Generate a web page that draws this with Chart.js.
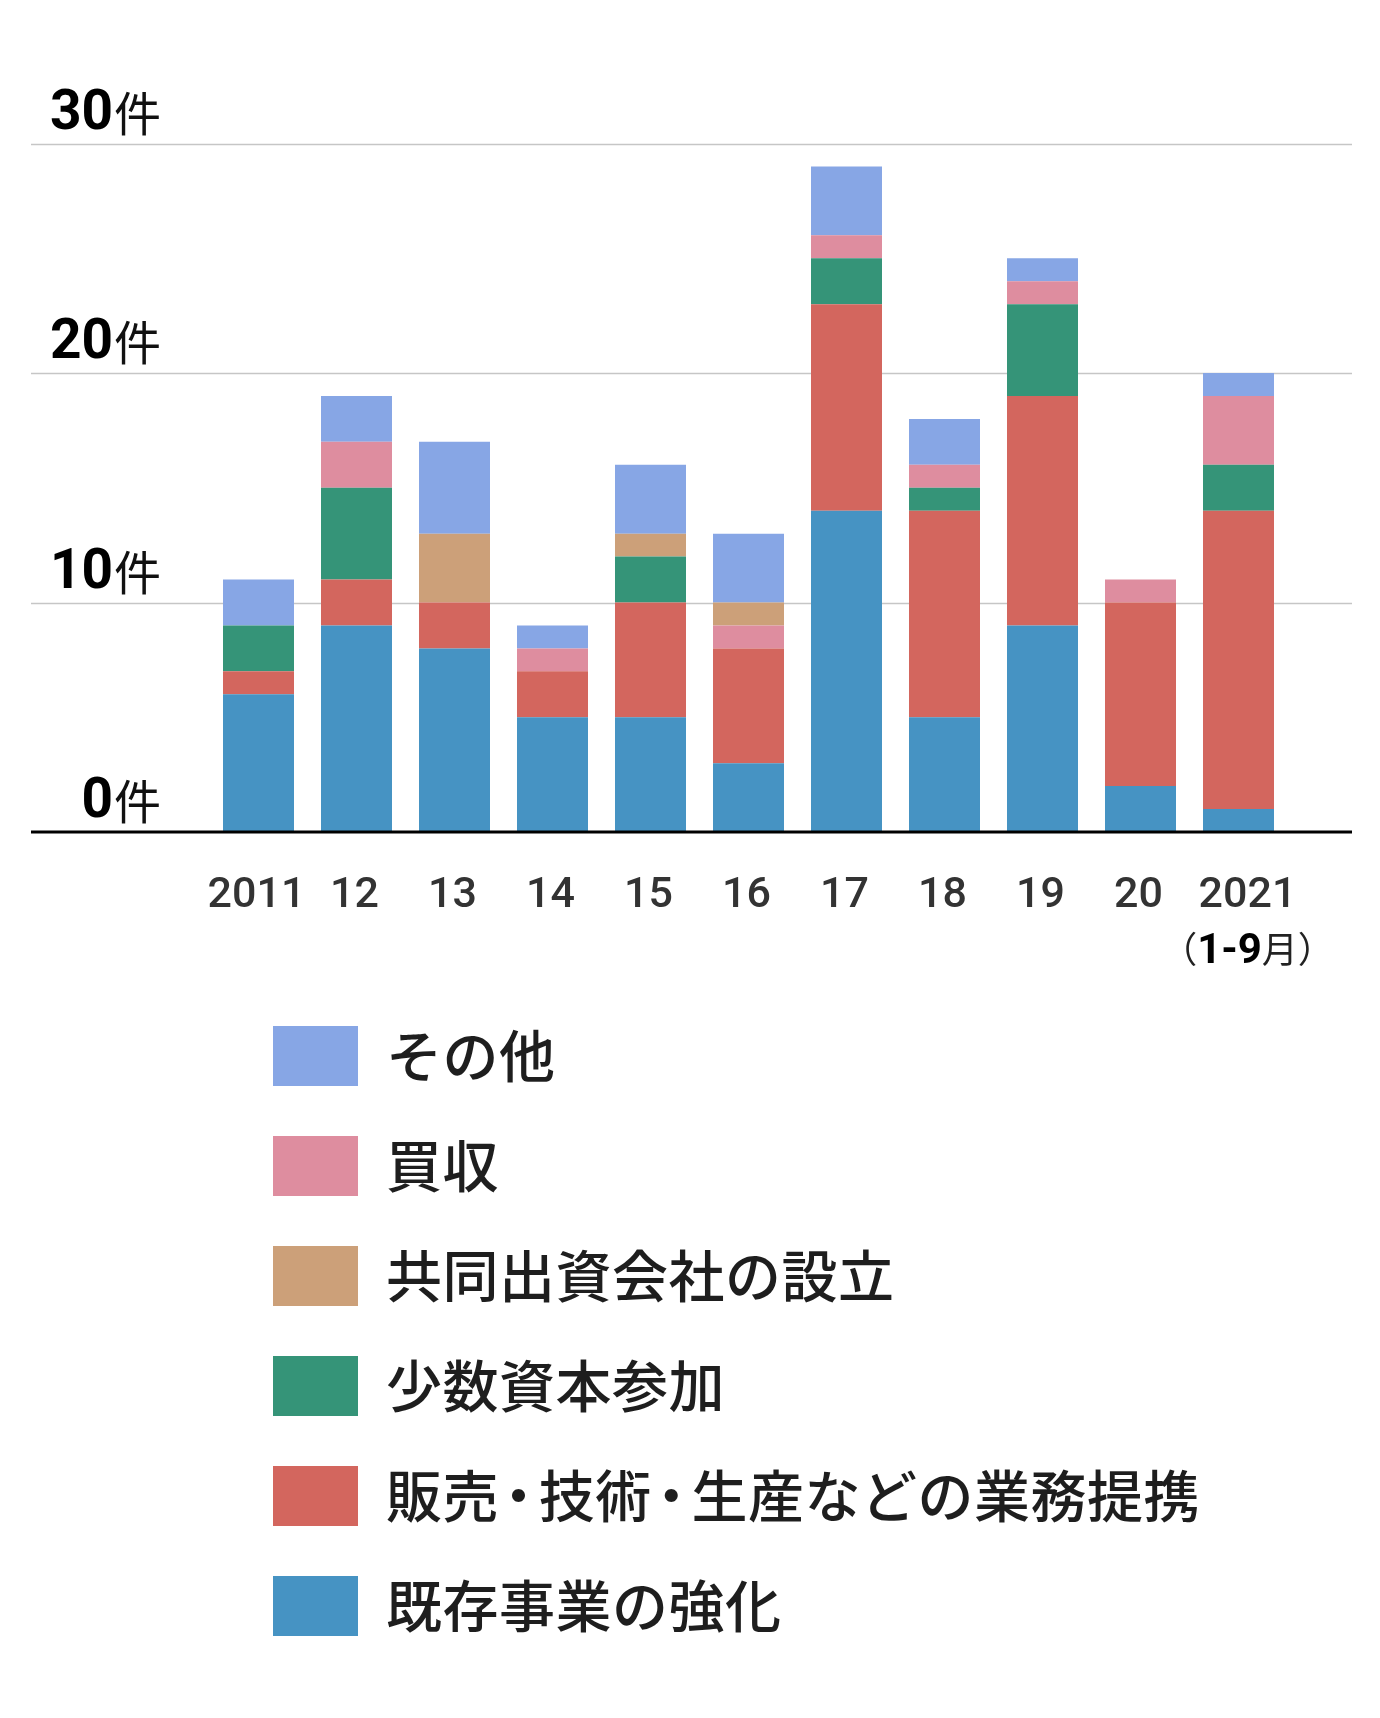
<!DOCTYPE html>
<html lang="ja">
<head>
<meta charset="utf-8">
<title>提携・出資の目的別件数</title>
<script src="https://cdn.jsdelivr.net/npm/chart.js@4.4.1/dist/chart.umd.min.js"></script>
<style>
  html, body { margin: 0; padding: 0; background: #fff; }
  #wrap { position: relative; width: 1380px; height: 1718px; }
  #chart { display: block; }
  #legend { position: absolute; left: 273px; top: 1026px; }
  .item { display: flex; align-items: center; height: 60px; margin-bottom: 50px; }
  .box { width: 85px; height: 60px; margin-right: 28px; }
  .txt { position: relative; top: -4px; font-family: "Noto Sans CJK JP", sans-serif; font-size: 56px; font-weight: 500; color: #1e1e1e; white-space: nowrap; letter-spacing: 0.5px; }
  .dot { margin: 0 -0.15em; }
</style>
</head>
<body>
<div id="wrap">
  <canvas id="chart" width="1380" height="1000"></canvas>
  <div id="legend"></div>
</div>
<script>
// categories (years)
const years = ['2011', '12', '13', '14', '15', '16', '17', '18', '19', '20', '2021'];
const yearNote = '(1-9月)'; // under the last year

// series, in stacking order from the bottom
const kizon   = [6, 9, 8, 5, 5, 3, 14, 5, 9, 2, 1];     // 既存事業の強化
const hanbai  = [1, 2, 2, 2, 5, 5, 9, 9, 10, 8, 13];    // 販売・技術・生産などの業務提携
const shosu   = [2, 4, 0, 0, 2, 0, 2, 1, 4, 0, 2];      // 少数資本参加
const baishu  = [0, 2, 0, 1, 0, 1, 1, 1, 1, 1, 3];      // 買収
const kyodo   = [0, 0, 3, 0, 1, 1, 0, 0, 0, 0, 0];      // 共同出資会社の設立
const sonota  = [2, 2, 4, 1, 3, 3, 3, 2, 1, 0, 1];      // その他

const yTicks = [0, 10, 20, 30];

const data = {
  labels: years,
  datasets: [
    { label: '既存事業の強化', data: kizon, backgroundColor: '#4693c3' },
    { label: '販売・技術・生産などの業務提携', data: hanbai, backgroundColor: '#d3665e' },
    { label: '少数資本参加', data: shosu, backgroundColor: '#359478' },
    { label: '買収', data: baishu, backgroundColor: '#de8d9f' },
    { label: '共同出資会社の設立', data: kyodo, backgroundColor: '#cca079' },
    { label: 'その他', data: sonota, backgroundColor: '#87a6e5' }
  ]
};

// legend is listed in a different order than the stack
const legendOrder = ['その他', '買収', '共同出資会社の設立', '少数資本参加', '販売・技術・生産などの業務提携', '既存事業の強化'];

const NUM_FONT = 'Roboto, "Noto Sans CJK JP", sans-serif';
const JP_FONT = '"Noto Sans CJK JP", sans-serif';

// gridlines run past the plot area, labels sit above each line
const axisDecor = {
  id: 'axisDecor',
  beforeDatasetsDraw(chart) {
    const { ctx, scales: { y } } = chart;
    ctx.save();
    ctx.strokeStyle = '#c6c6c6';
    ctx.lineWidth = 1.5;
    yTicks.forEach(v => {
      if (v === 0) return;
      const py = Math.round(y.getPixelForValue(v)) + 0.5;
      ctx.beginPath();
      ctx.moveTo(31, py);
      ctx.lineTo(1352, py);
      ctx.stroke();
    });
    ctx.restore();
  },
  afterDatasetsDraw(chart) {
    const { ctx, scales: { x, y } } = chart;
    ctx.save();

    // baseline
    const y0 = y.getPixelForValue(0);
    ctx.strokeStyle = '#000';
    ctx.lineWidth = 3;
    ctx.beginPath();
    ctx.moveTo(31, y0);
    ctx.lineTo(1352, y0);
    ctx.stroke();

    // y labels: bold number + 件
    ctx.textBaseline = 'alphabetic';
    yTicks.forEach(v => {
      const py = y.getPixelForValue(v) - 15;
      ctx.font = '400 47px ' + JP_FONT;
      ctx.fillStyle = '#111';
      ctx.textAlign = 'right';
      const wUnit = ctx.measureText('件').width;
      ctx.fillText('件', 161, py + 2);
      ctx.font = 'bold 55px ' + NUM_FONT;
      ctx.fillStyle = '#000';
      ctx.fillText(String(v), 161 - wUnit - 1, py);
    });

    // x labels
    ctx.textAlign = 'center';
    years.forEach((label, i) => {
      let px = x.getPixelForValue(i) - 2;
      if (i === years.length - 1) px += 11;
      ctx.font = '500 43px ' + NUM_FONT;
      ctx.fillStyle = '#333';
      ctx.fillText(label, px, y0 + 75);
    });

    // note under the last year: (1-9月) with bold digits
    const lastX = x.getPixelForValue(years.length - 1) + 9;
    const m = yearNote.match(/^(\()(.*?)(月)(\))$/);
    const parts = [
      { t: '（', f: '400 36px ' + JP_FONT, c: '#222' },
      { t: m[2], f: 'bold 42px ' + NUM_FONT, c: '#000' },
      { t: m[3], f: '400 36px ' + JP_FONT, c: '#222' },
      { t: '）', f: '400 36px ' + JP_FONT, c: '#222' }
    ];
    let total = 0;
    parts.forEach(p => { ctx.font = p.f; p.w = ctx.measureText(p.t).width; total += p.w; });
    let cx = lastX - total / 2;
    ctx.textAlign = 'left';
    parts.forEach(p => {
      ctx.font = p.f;
      ctx.fillStyle = p.c;
      ctx.fillText(p.t, cx, y0 + 131);
      cx += p.w;
    });

    ctx.restore();
  }
};

const config = {
  type: 'bar',
  data: data,
  options: {
    responsive: false,
    animation: false,
    layout: { padding: { left: 209.5, right: 92.5, top: 143.5, bottom: 168 } },
    datasets: { bar: { categoryPercentage: 1, barPercentage: 0.7245, borderWidth: 0 } },
    scales: {
      x: { stacked: true, display: false },
      y: { stacked: true, display: false, min: 0, max: 30 }
    },
    plugins: {
      legend: { display: false },
      tooltip: { enabled: false }
    }
  },
  plugins: [axisDecor]
};

const ctx = document.getElementById('chart').getContext('2d');
const chart = new Chart(ctx, config);

// html legend, built from the chart's own datasets
const legendEl = document.getElementById('legend');
legendOrder.forEach(name => {
  const ds = chart.data.datasets.find(d => d.label === name);
  const row = document.createElement('div');
  row.className = 'item';
  const box = document.createElement('span');
  box.className = 'box';
  box.style.background = ds.backgroundColor;
  const txt = document.createElement('span');
  txt.className = 'txt';
  // the middle dots are set tighter than the other characters
  ds.label.split('・').forEach((piece, k) => {
    if (k > 0) {
      const dot = document.createElement('span');
      dot.className = 'dot';
      dot.textContent = '・';
      txt.appendChild(dot);
    }
    txt.appendChild(document.createTextNode(piece));
  });
  row.appendChild(box);
  row.appendChild(txt);
  legendEl.appendChild(row);
});
</script>
</body>
</html>
